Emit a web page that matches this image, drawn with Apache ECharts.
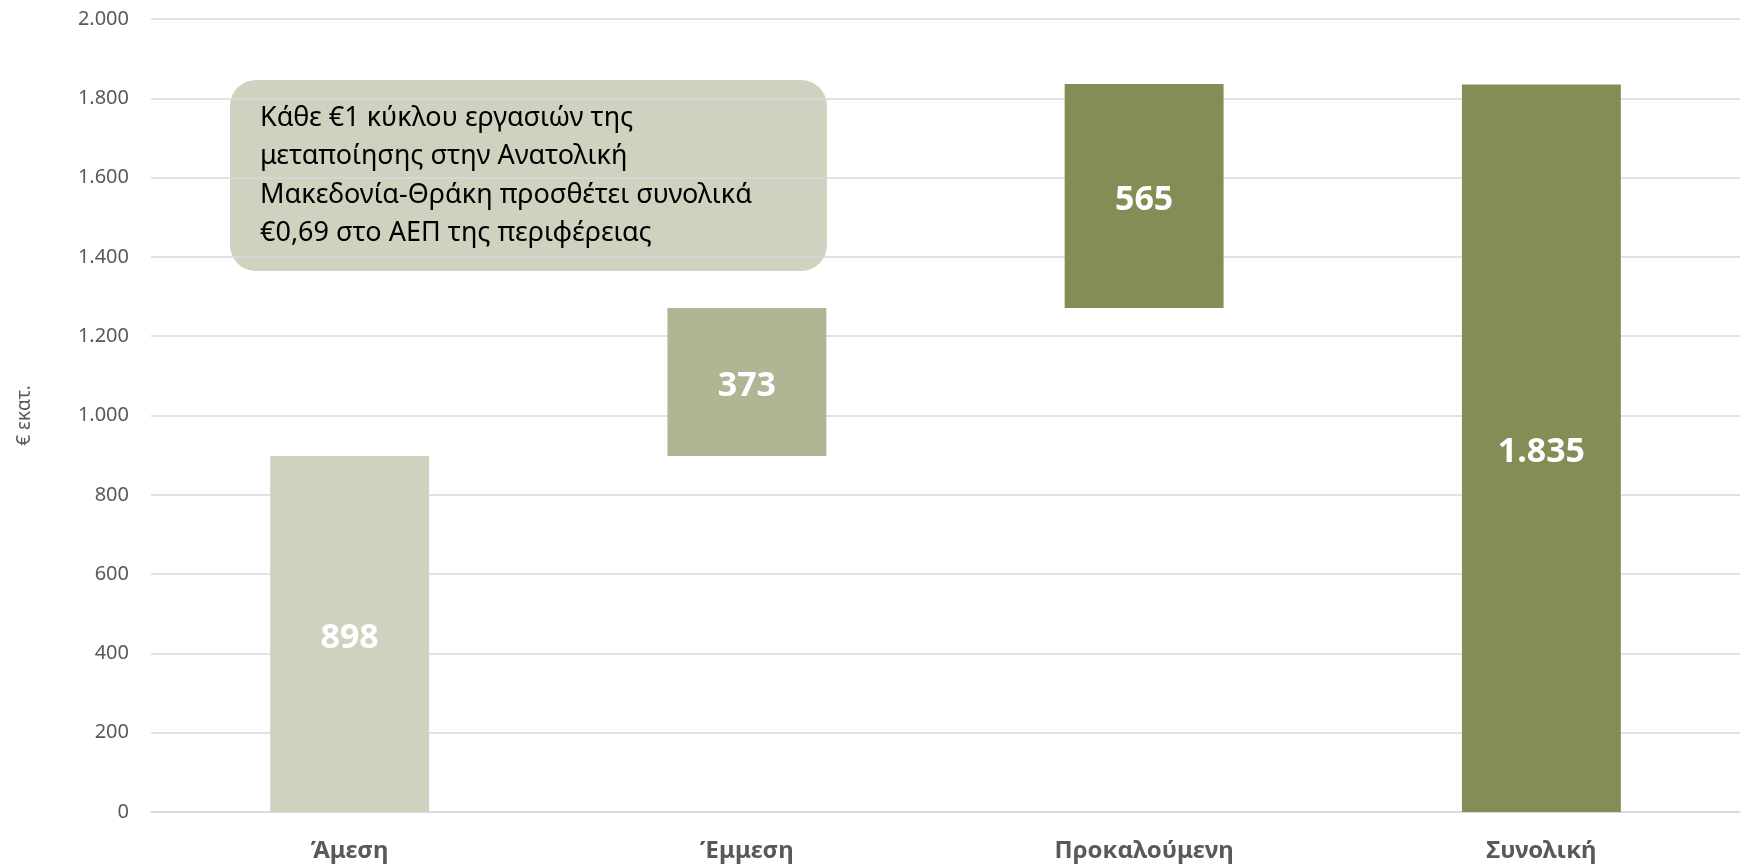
<!DOCTYPE html>
<html>
<head>
<meta charset="utf-8">
<script src="https://cdn.jsdelivr.net/npm/echarts@6/dist/echarts.min.js"></script>
<style>
  html, body { margin: 0; padding: 0; background: #fff; }
  #chart { width: 1741px; height: 864px; }
</style>
</head>
<body>
<div id="chart"></div>
<script>
const categories = ['Άμεση', 'Έμμεση', 'Προκαλούμενη', 'Συνολική'];
const values = [898, 373, 565, 1835];
const isTotal = [false, false, false, true];
const barColors = ['#D0D1BF', '#B0B594', '#858C55', '#858C55'];
const noteLines = [
  'Κάθε €1 κύκλου εργασιών της',
  'μεταποίησης στην Ανατολική',
  'Μακεδονία-Θράκη προσθέτει συνολικά',
  '€0,69 στο ΑΕΠ της περιφέρειας'
];

// dot as thousands separator
const fmt = v => String(v).replace(/\B(?=(\d{3})+(?!\d))/g, '.');

// invisible base for the waterfall steps
let running = 0;
const base = values.map((v, i) => {
  if (isTotal[i]) return 0;
  const b = running;
  running += v;
  return b;
});

const FONT = '"Noto Sans", sans-serif';
const chart = echarts.init(document.getElementById('chart'), null, {renderer: 'canvas'});

chart.setOption({
  animation: false,
  grid: {left: 151, right: 1, top: 19, bottom: 52, outerBoundsMode: 'none'},
  xAxis: {
    type: 'category',
    data: categories,
    axisLine: {lineStyle: {color: '#D9D9D9', width: 1.5}},
    axisTick: {show: false},
    axisLabel: {
      color: '#595959', fontSize: 24, fontWeight: 'bold',
      fontFamily: FONT, margin: 27
    }
  },
  yAxis: {
    type: 'value',
    min: 0,
    max: 2000,
    interval: 200,
    name: '€ εκατ.',
    nameLocation: 'middle',
    nameGap: 117,
    nameTextStyle: {color: '#595959', fontSize: 19, fontFamily: FONT},
    axisLine: {show: false},
    axisTick: {show: false},
    splitLine: {lineStyle: {color: '#D9D9D9', width: 1.5}},
    axisLabel: {
      color: '#595959', fontSize: 20, fontFamily: FONT, margin: 22,
      formatter: fmt
    }
  },
  series: [
    {
      type: 'bar',
      stack: 'w',
      data: base,
      barWidth: '40%',
      itemStyle: {color: 'transparent'},
      silent: true
    },
    {
      type: 'bar',
      stack: 'w',
      barWidth: '40%',
      data: values.map((v, i) => ({value: v, itemStyle: {color: barColors[i]}})),
      label: {
        show: true,
        position: 'inside',
        offset: [0, 4],
        color: '#fff',
        fontSize: 34,
        fontWeight: 'bold',
        fontFamily: FONT,
        formatter: p => fmt(p.value)
      }
    }
  ],
  graphic: [
    {
      type: 'group',
      left: 230,
      top: 80,
      children: [
        {
          type: 'rect',
          shape: {x: 0, y: 0, width: 597, height: 191, r: 26},
          style: {fill: '#D0D1BF'}
        },
        {
          type: 'text',
          x: 30,
          y: 19,
          style: {
            text: noteLines.join('\n'),
            fill: '#000',
            font: '27px "Noto Sans", sans-serif',
            lineHeight: 38.5
          }
        }
      ]
    }
  ]
});
</script>
</body>
</html>
